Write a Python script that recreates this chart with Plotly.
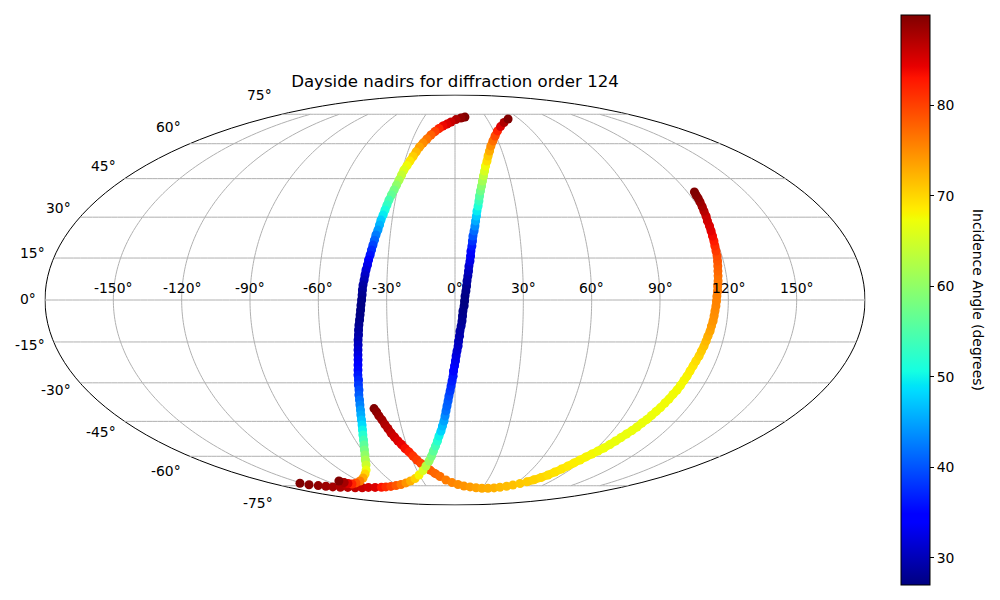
import plotly.graph_objects as go

title = "Dayside nadirs for diffraction order 124"
cbar_title = "Incidence Angle (degrees)"
lat_ticks = [75, 60, 45, 30, 15, 0, -15, -30, -45, -60, -75]
lon_ticks = [-150, -120, -90, -60, -30, 0, 30, 60, 90, 120, 150]
cbar_ticks = [30, 40, 50, 60, 70, 80]

lon1 = [-41.9,-41.1,-40.5,-39.5,-38.7,-37.8,-36.9,-35.7,-34.5,-33.1,-31.8,-30.1,-28.4,-26.7,-24.7,-22.3,-19.6,-16.5,-12.9,-8.3,-2.9,3.0,9.4,16.1,23.0,29.9,36.6,42.9,48.5,54.2,59.1,64.0,68.4,72.2,75.5,78.4,80.7,82.6,84.5,86.1,87.8,89.4,91.1,92.8,94.5,95.9,97.1,98.3,99.5,100.8,101.8,102.6,103.7,104.4,105.2,106.0,106.6,107.3,107.8,108.5,108.9,109.3,109.7,110.0,110.4,110.8,111.4,111.7,112.2,112.5,112.8,113.3,113.5,113.9,114.1,114.3,114.6,114.8,115.0,115.4,115.6,116.0,116.3,116.6,117.0,117.4,117.8,118.0,118.3,118.7,119.0,119.4,119.8,120.1,120.8,121.3,121.9,122.5,123.0,123.2,123.7]
lat1 = [-39.9,-41.2,-42.8,-44.4,-46.3,-47.9,-49.8,-51.5,-53.2,-54.7,-56.5,-58.0,-59.9,-61.7,-63.4,-65.1,-66.6,-68.3,-69.9,-71.8,-73.2,-74.3,-75.2,-75.7,-76.2,-76.5,-76.5,-76.3,-75.9,-75.3,-74.6,-73.7,-72.8,-71.7,-70.4,-69.1,-67.6,-66.1,-64.6,-63.1,-61.7,-60.3,-59.0,-57.6,-56.3,-54.7,-53.2,-51.7,-50.2,-48.8,-47.3,-45.7,-44.2,-42.6,-41.0,-39.5,-37.7,-36.2,-34.4,-32.7,-31.0,-29.1,-27.5,-25.6,-23.7,-21.9,-20.1,-18.3,-16.5,-14.7,-12.9,-11.1,-9.3,-7.5,-5.7,-3.9,-2.1,-0.4,1.4,3.2,5.0,6.8,8.6,10.3,12.1,13.9,15.7,17.5,19.4,21.2,23.0,24.9,26.7,28.6,30.4,32.3,34.0,35.8,37.3,38.5,39.7]
inc1 = [90,89.3,88.8,88.2,87.5,87,86.3,85.7,85,84.3,83.5,82.5,81,80.3,79.5,78.8,78,77.5,77,76,75.5,75,74.5,74,73.5,73,72.7,72.5,72,71.7,71.5,71,70.7,70.3,70,69.5,69.2,69,68.7,68.4,68.2,68,67.8,67.5,67.3,67.1,67,67,67,67,67,67,67.1,67.2,67.3,67.4,67.5,67.5,67.5,67.6,67.6,67.8,68,68.5,69,69.5,70.2,70.8,71.4,72,72.7,73.3,74,74.4,74.7,75,75.3,75.6,75.7,75.9,76.1,76.3,76.8,77.4,78,78.6,79.4,80.5,81.6,82.7,83.8,84.5,85,85.5,86,87,87.8,88.5,89.2,89.6,90]

lon2 = [-152.0,-147.7,-141.3,-135.7,-130.7,-123.7,-116.2,-109.2,-101.5,-93.9,-86.6,-79.4,-73.9,-67.7,-60.9,-54.4,-47.7,-41.6,-35.7,-30.3,-25.3,-21.7,-18.4,-15.9,-14.0,-12.2,-10.6,-9.4,-8.0,-7.0,-6.0,-5.3,-4.7,-4.1,-3.5,-3.0,-2.4,-1.9,-1.4,-0.9,-0.7,-0.2,0.2,0.5,0.9,1.4,1.6,2.0,2.2,2.7,3.1,3.3,3.5,4.0,4.2,4.4,4.8,5.1,5.3,5.7,6.0,6.2,6.7,7.0,7.2,7.7,8.0,8.3,8.9,9.4,9.8,10.3,10.7,11.4,12.0,12.5,13.2,14.0,14.8,15.7,16.7,17.7,19.1,20.4,22.1,23.9,26.4,29.3,33.0,37.5,43.0,49.6]
lat2 = [-73.6,-74.4,-74.9,-75.3,-75.7,-75.9,-76.0,-76.2,-76.2,-76.0,-76.0,-75.9,-75.7,-75.4,-74.9,-74.3,-73.4,-72.3,-71.0,-69.1,-66.8,-64.6,-62.2,-59.9,-57.6,-55.4,-53.2,-51.1,-49.0,-46.9,-44.9,-42.8,-40.8,-38.9,-36.9,-35.0,-33.1,-31.2,-29.3,-27.5,-25.6,-23.7,-21.9,-20.1,-18.3,-16.5,-14.7,-12.9,-11.1,-9.3,-7.5,-5.7,-3.9,-2.1,-0.4,1.4,3.2,5.0,6.8,8.6,10.3,12.1,13.9,15.7,17.5,19.4,21.2,23.0,24.9,26.7,28.6,30.4,32.3,34.2,36.2,38.1,40.1,42.0,44.0,46.1,48.1,50.2,52.3,54.5,56.7,59.0,61.3,63.6,66.1,68.3,70.4,72.3]
inc2 = [90,89.5,89,88.5,88,87.5,87,86.5,86,85.5,85,83,81.5,80,78.5,76.5,74.5,72.5,70.5,68,65.5,63,60.5,58,56,54,52,50,48,46.5,45,43.5,42,41,40.5,39.5,38.5,37.5,36.5,36,35,34,33.3,32.5,31.7,31,30.3,29.7,29.2,28.7,28.2,27.8,27.5,27.2,27,27.2,27.5,28,28.7,29.5,30.3,31.3,32.5,33.5,35,36.5,38,40,41.5,43.5,45.5,47.5,49.5,51.5,53.5,55.5,57.5,59.5,61.5,63.5,65.5,67.5,69.5,71,73,75,77,79.5,82,85,87.5,90]

lon3 = [9.7,5.7,0.9,-3.5,-6.8,-10.0,-12.8,-15.4,-17.8,-19.9,-21.8,-23.4,-24.7,-25.8,-26.9,-27.9,-29.0,-29.6,-30.3,-31.0,-31.7,-32.5,-33.2,-33.7,-34.2,-34.7,-35.3,-35.6,-36.0,-36.6,-37.0,-37.4,-37.8,-38.2,-38.7,-39.0,-39.5,-39.8,-40.1,-40.5,-40.7,-40.8,-41.0,-41.3,-41.5,-41.8,-42.1,-42.5,-42.8,-43.0,-43.4,-43.6,-43.9,-44.2,-44.5,-44.9,-45.3,-45.8,-46.0,-46.6,-46.9,-47.6,-48.0,-48.6,-49.2,-49.9,-50.6,-51.5,-52.5,-53.7,-55.0,-56.5,-58.3,-60.4,-62.9,-65.8,-69.9,-74.7,-81.4,-88.8,-96.4,-102.6,-105.4,-107.0,-108.5]
lat3 = [73.4,72.9,72.0,70.7,69.6,68.6,67.3,65.8,64.1,62.2,60.3,58.5,56.3,54.3,52.3,50.4,48.5,46.5,44.4,42.4,40.5,38.5,36.5,34.6,32.7,30.8,28.9,27.1,25.2,23.4,21.5,19.7,17.9,16.1,14.3,12.5,10.7,8.9,7.1,5.3,3.6,1.8,0.0,-1.8,-3.6,-5.3,-7.1,-8.9,-10.7,-12.5,-14.3,-16.1,-17.9,-19.7,-21.5,-23.4,-25.2,-27.1,-28.9,-30.8,-32.7,-34.6,-36.5,-38.5,-40.5,-42.4,-44.4,-46.5,-48.5,-50.6,-52.8,-54.9,-57.1,-59.4,-61.7,-64.1,-66.6,-68.6,-70.7,-72.3,-73.4,-74.0,-73.7,-73.2,-72.3]
inc3 = [90,89,87.5,86,85,84,82,80,78,76.5,75,73.5,72,70.5,69,67.5,66,64,62,60,58,56.5,54.5,53,51,49.5,47.5,46,44.5,42.5,41,39,37.5,36,34.5,33,32,31,30,29,28.5,28,27.5,27.3,27.2,27.2,27.5,27.8,28.5,29,29.7,30.5,31.3,32.3,33.3,34.3,35.3,36.3,37.3,38.3,39.5,40.5,42,43,44.5,45.5,47,48.5,50,52,54,56,58,60,62,64.5,67,70,73,76,79,82,85,88,90]

CMIN, CMAX = 27, 90
# matplotlib "jet"
jet_stops = [(0,(0,0,128)),(0.11,(0,0,255)),(0.125,(0,0,255)),(0.34,(0,219,255)),
             (0.35,(0,229,247)),(0.375,(21,255,226)),(0.64,(239,255,8)),(0.65,(247,246,0)),
             (0.66,(255,236,0)),(0.89,(255,19,0)),(0.91,(232,0,0)),(1,(128,0,0))]
jet = [[t, "rgb(%d,%d,%d)" % c] for t, c in jet_stops]

def jet_colour(v):
    t = (v - CMIN) / (CMAX - CMIN)
    t = max(0, min(1, t))
    for (t0, c0), (t1, c1) in zip(jet_stops, jet_stops[1:]):
        if t <= t1:
            f = (t - t0) / (t1 - t0)
            return "rgb(%d,%d,%d)" % tuple(round(a + (b - a) * f) for a, b in zip(c0, c1))
    return jet[-1][1]

FONT = "DejaVu Sans"
# the page body has an 8px margin, so the figure sits 8px in from the window corner
OFF = 8
W, H = 984, 584
def fx(px): return (px - OFF) / W
def fy(py): return 1 - (py - OFF) / H

fig = go.Figure()

# graticule, capped at +-75 like the reference
glon, glat = [], []
for la in lat_ticks:
    for i in range(-180, 181, 3):
        glon.append(i); glat.append(la)
    glon.append(None); glat.append(None)
for lo in lon_ticks:
    for i in range(-75, 76):
        glon.append(lo); glat.append(i)
    glon.append(None); glat.append(None)
fig.add_trace(go.Scattergeo(lon=glon, lat=glat, mode="lines",
                            line=dict(color="#b0b0b0", width=1),
                            hoverinfo="skip", showlegend=False))

# joins between neighbouring readings where the track is dense
for lo, la, inc in ((lon1, lat1, inc1), (lon2, lat2, inc2), (lon3, lat3, inc3)):
    for i in range(len(lo) - 1):
        if abs(lo[i + 1] - lo[i]) < 4:
            fig.add_trace(go.Scattergeo(lon=lo[i:i + 2], lat=la[i:i + 2], mode="lines",
                                        line=dict(color=jet_colour((inc[i] + inc[i + 1]) / 2), width=8),
                                        hoverinfo="skip", showlegend=False))

fig.add_trace(go.Scattergeo(
    lon=lon1 + lon2 + lon3, lat=lat1 + lat2 + lat3, mode="markers",
    marker=dict(size=9, color=inc1 + inc2 + inc3, coloraxis="coloraxis", line=dict(width=0), opacity=1),
    showlegend=False))

# tick labels
lat_label_pos = {75:(272,95),60:(181,127),45:(116,166),30:(71,208),15:(45,253),0:(36,299),
                 -15:(45,345),-30:(71,390),-45:(116,432),-60:(181,471),-75:(273,503)}
ann = []
for la in lat_ticks:
    px, py = lat_label_pos[la]
    ann.append(dict(x=fx(px), y=fy(py), text=f"{la}°", xanchor="right", yanchor="middle"))
for lo in lon_ticks:
    ann.append(dict(x=fx(455 + lo / 180 * 410), y=fy(288), text=f"{lo}°", xanchor="center", yanchor="middle"))
ann.append(dict(x=fx(978), y=fy(300), text=cbar_title, textangle=90, xanchor="center", yanchor="middle"))
for a in ann:
    a.update(xref="paper", yref="paper", showarrow=False, borderpad=0, borderwidth=0,
             font=dict(family=FONT, size=13.9, color="black"))

fig.update_layout(
    width=W, height=H, margin=dict(l=0, r=0, t=0, b=0), paper_bgcolor="white",
    showlegend=False, annotations=ann,
    title=dict(text=title, x=fx(455), y=fy(81), xanchor="center", yanchor="middle", xref="paper", yref="paper",
               font=dict(family=FONT, size=16.6, color="black")),
    geo=dict(
        projection=dict(type="mollweide"),
        domain=dict(x=[fx(45), fx(865)], y=[fy(505), fy(95)]),
        showframe=True, framecolor="black", framewidth=1,
        showland=False, showcoastlines=False, showocean=False, showlakes=False, showrivers=False,
        showcountries=False, bgcolor="rgba(0,0,0,0)",
        lonaxis=dict(showgrid=False, range=[-180, 180]),
        lataxis=dict(showgrid=False, range=[-90, 90]),
    ),
    coloraxis=dict(
        cmin=CMIN, cmax=CMAX, colorscale=jet,
        colorbar=dict(
            thicknessmode="pixels", thickness=29, lenmode="pixels", len=570,
            x=fx(901), xanchor="left", xpad=0, y=fy(300), yanchor="middle", ypad=0,
            outlinecolor="black", outlinewidth=1, ticks="outside", ticklen=4, tickwidth=1, tickcolor="black",
            tickvals=cbar_ticks, tickfont=dict(family=FONT, size=13.9, color="black"),
        ),
    ),
)
fig.write_html("out.html")
